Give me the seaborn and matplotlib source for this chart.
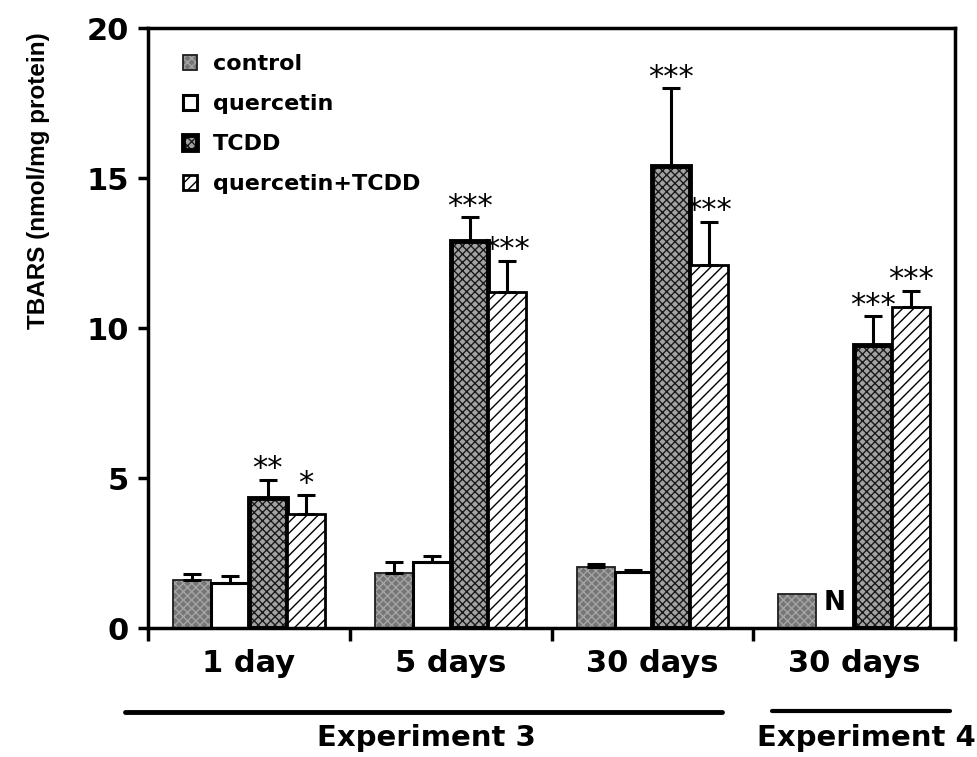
import numpy as np
import pandas as pd
import matplotlib
matplotlib.use("Agg")
import matplotlib.pyplot as plt
import matplotlib.colors as mcolors
from matplotlib.lines import Line2D
import seaborn as sns

# ---------------- data ----------------
groups = ["Exp3 1 day", "Exp3 5 days", "Exp3 30 days", "Exp4 30 days"]
group_labels = ["1 day", "5 days", "30 days", "30 days"]
treatments = ["control", "quercetin", "TCDD", "quercetin+TCDD"]

control = [1.6, 1.85, 2.05, 1.15]
quercetin = [1.5, 2.2, 1.87, np.nan]
tcdd = [4.35, 12.9, 15.4, 9.45]
quercetin_tcdd = [3.8, 11.2, 12.1, 10.7]

control_err = [0.2, 0.35, 0.08, 0.0]
quercetin_err = [0.25, 0.2, 0.08, np.nan]
tcdd_err = [0.6, 0.8, 2.6, 0.95]
quercetin_tcdd_err = [0.65, 1.05, 1.45, 0.55]

tcdd_stars = ["**", "***", "***", "***"]
quercetin_tcdd_stars = ["*", "***", "***", "***"]

experiments = ["Experiment 3", "Experiment 4"]
nd_label = "N"   # "ND", partly hidden behind the TCDD bar in the original
y_label = "TBARS (nmol/mg protein)"
y_ticks = [0, 5, 10, 15, 20]

# ---------------- table ----------------
values = {"control": control, "quercetin": quercetin, "TCDD": tcdd,
          "quercetin+TCDD": quercetin_tcdd}
errors = {"control": control_err, "quercetin": quercetin_err, "TCDD": tcdd_err,
          "quercetin+TCDD": quercetin_tcdd_err}
stars = {"TCDD": tcdd_stars, "quercetin+TCDD": quercetin_tcdd_stars}

rows = []
for t in treatments:
    for g, v in zip(groups, values[t]):
        rows.append({"group": g, "treatment": t, "value": v})
df = pd.DataFrame(rows)

# ---------------- style ----------------
sns.set_theme(style="ticks")
plt.rcParams["font.family"] = ["DejaVu Sans"]
plt.rcParams["hatch.linewidth"] = 1.0
for k in ["text.color", "axes.labelcolor", "xtick.color", "ytick.color",
          "axes.edgecolor"]:
    plt.rcParams[k] = "black"

styles = {
    "control": dict(face="#767676", hatch="xxxx", hatchc="#a4a4a4", edge="#1e1e1e", lw=1.3),
    "quercetin": dict(face="white", hatch=None, hatchc="black", edge="black", lw=2.2),
    "TCDD": dict(face="#a2a2a2", hatch="xxxx", hatchc="#1a1a1a", edge="black", lw=3.5),
    "quercetin+TCDD": dict(face="white", hatch="///", hatchc="black", edge="black", lw=2.0),
}

fig = plt.figure(figsize=(9.77, 7.57), dpi=100)
ax = fig.add_axes([0.1515, 0.1704, 0.826, 0.7926])

sns.barplot(data=df, x="group", y="value", hue="treatment", order=groups,
            hue_order=treatments, errorbar=None, width=0.75, dodge=True,
            saturation=1, palette=["#767676", "white", "#a2a2a2", "white"],
            legend=False, ax=ax, zorder=2)

for container, t in zip(ax.containers, treatments):
    st = styles[t]
    for bar in container:
        bar.set_facecolor(st["face"])
        bar.set_edgecolor(st["edge"])
        bar.set_linewidth(st["lw"])
        if st["hatch"]:
            bar.set_hatch(st["hatch"])
        bar._hatch_color = mcolors.to_rgba(st["hatchc"])

# error bars and significance stars
for container, t in zip(ax.containers, treatments):
    for bar in container:
        xc = bar.get_x() + bar.get_width() / 2
        h = bar.get_height()
        gi = int(round(xc))
        e = errors[t][gi]
        top = h
        if e is not None and not np.isnan(e) and e > 0:
            ax.errorbar(xc, h, yerr=[[0], [e]], fmt="none", ecolor="black",
                        elinewidth=2.2, capsize=6.5, capthick=2.2, zorder=3)
            top = h + e
        if t in stars:
            ax.annotate(stars[t][gi], xy=(xc, top), xytext=(0, 1.5),
                        textcoords="offset points", ha="center", va="baseline",
                        fontsize=22, fontweight="normal", zorder=4)

# ND label for the missing quercetin bar in experiment 4
for bar in ax.containers[0]:
    xc = bar.get_x() + bar.get_width() / 2
    if int(round(xc)) == len(groups) - 1:
        ax.annotate(nd_label, xy=(bar.get_x() + bar.get_width(), 0),
                    xytext=(5, 13), textcoords="offset points", ha="left",
                    va="baseline", fontsize=19, fontweight="bold", zorder=1.5)

# axes
ax.set_xlim(-0.5, len(groups) - 0.5)
ax.set_ylim(0, 20)
ax.set_xticks(np.arange(-0.5, len(groups), 1.0))
ax.set_xticklabels([])
ax.set_xticks(np.arange(len(groups)), minor=True)
ax.set_xticklabels(group_labels, minor=True, fontsize=22, fontweight="bold")
ax.tick_params(axis="x", which="minor", length=0, pad=15)
ax.tick_params(axis="x", which="major", length=9, width=2.5, direction="out",
               color="black")
ax.set_yticks(y_ticks)
ax.set_yticklabels([str(v) for v in y_ticks], fontsize=22, fontweight="bold")
ax.tick_params(axis="y", length=7, width=2.5, pad=7, direction="out", color="black")
ax.set_xlabel("")
ax.set_ylabel(y_label, fontsize=17.5, fontweight="bold",
              family=["Liberation Sans", "DejaVu Sans"])
ax.yaxis.set_label_coords(-0.121, 0.745)
for s in ax.spines.values():
    s.set_linewidth(2.5)
    s.set_color("black")
    s.set_visible(True)

# legend
handles = [c[0] for c in ax.containers]
ax.legend(handles, treatments, loc="upper left", bbox_to_anchor=(0.043, 0.956),
          frameon=False, prop={"weight": "bold", "size": 16},
          handlelength=0.65, handleheight=0.65, handletextpad=0.7,
          labelspacing=0.9, borderpad=0, borderaxespad=0)

# experiment brackets
W, H = 977.0, 757.0
fig.add_artist(Line2D([125 / W, 722 / W], [1 - 712 / H] * 2, color="black", lw=3.5))
fig.add_artist(Line2D([772 / W, 950 / W], [1 - 711 / H] * 2, color="black", lw=3.0))
fig.text(426 / W, 11 / H, experiments[0], ha="center", va="baseline",
         fontsize=21, fontweight="bold")
fig.text(976 / W, 11 / H, experiments[1], ha="right", va="baseline",
         fontsize=21, fontweight="bold")

fig.savefig("out.png", dpi=100)
